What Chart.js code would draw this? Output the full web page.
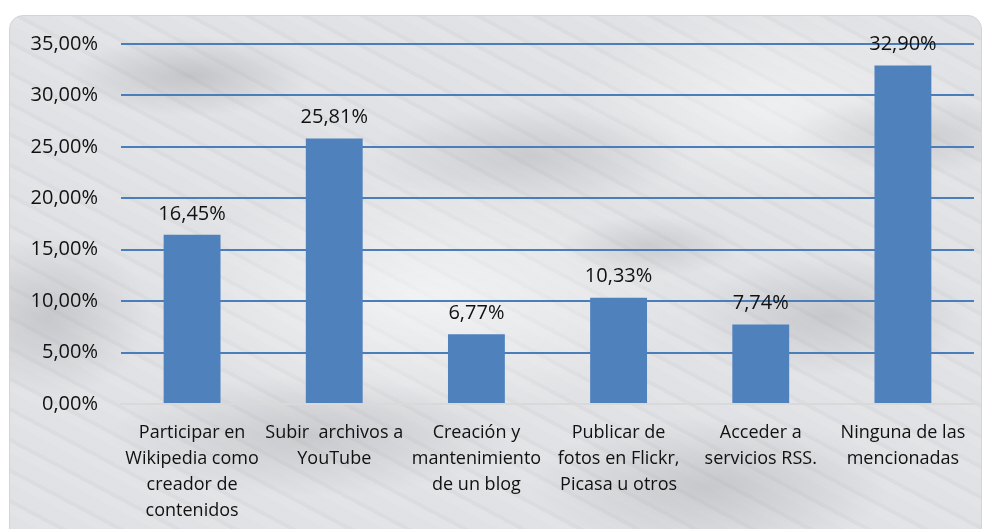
<!DOCTYPE html>
<html>
<head>
<meta charset="utf-8">
<script src="https://cdn.jsdelivr.net/npm/chart.js@4.4.0/dist/chart.umd.min.js"></script>
<style>
  body { margin: 0; background: #fff; width: 988px; height: 529px; overflow: hidden; }
  #frame {
    position: absolute; left: 9px; top: 15px; width: 973px; height: 530px;
    border: 1px solid #d4d4d4; border-radius: 14px; overflow: hidden; box-sizing: border-box;
    background-color: #dfe0e3;
    background-image:
      radial-gradient(ellipse 120px 40px at 180px 60px, rgba(140,140,145,0.35), transparent),
      radial-gradient(ellipse 160px 50px at 520px 140px, rgba(150,150,155,0.3), transparent),
      radial-gradient(ellipse 140px 60px at 820px 300px, rgba(140,140,145,0.3), transparent),
      radial-gradient(ellipse 200px 60px at 300px 420px, rgba(145,145,150,0.3), transparent),
      radial-gradient(ellipse 180px 70px at 700px 470px, rgba(140,140,145,0.3), transparent),
      radial-gradient(ellipse 100px 80px at 40px 300px, rgba(150,150,155,0.35), transparent),
      radial-gradient(ellipse 90px 30px at 640px 230px, rgba(150,150,155,0.3), transparent),
      radial-gradient(ellipse 120px 40px at 900px 120px, rgba(150,150,155,0.3), transparent),
      radial-gradient(ellipse 260px 120px at 420px 280px, rgba(255,255,255,0.55), transparent),
      radial-gradient(ellipse 200px 100px at 760px 90px, rgba(255,255,255,0.45), transparent),
      repeating-linear-gradient(28deg, rgba(255,255,255,0.12) 0 9px, rgba(185,185,190,0.09) 9px 13px, rgba(240,240,243,0.1) 13px 27px);
  }
  #chart { display: block; }
</style>
</head>
<body>
<div id="frame"><canvas id="chart" width="973" height="530"></canvas></div>
<script>
// categories (multi-line labels) and values in %
const categories = [
  ["Participar en", "Wikipedia como", "creador de", "contenidos"],
  ["Subir  archivos a", "YouTube"],
  ["Creación y", "mantenimiento", "de un blog"],
  ["Publicar de", "fotos en Flickr,", "Picasa u otros"],
  ["Acceder a", "servicios RSS."],
  ["Ninguna de las", "mencionadas"]
];
const percentages = [16.45, 25.81, 6.77, 10.33, 7.74, 32.90];
const yTicks = [0, 5, 10, 15, 20, 25, 30, 35];

const fmt = v => v.toFixed(2).replace(".", ",") + "%";
const fontFamily = "'Open Sans', 'DejaVu Sans', sans-serif";

const valueLabels = {
  id: "valueLabels",
  afterDatasetsDraw(chart) {
    const ctx = chart.ctx;
    const meta = chart.getDatasetMeta(0);
    ctx.save();
    ctx.font = "20px " + fontFamily;
    ctx.fillStyle = "#111";
    ctx.textAlign = "center";
    ctx.textBaseline = "middle";
    meta.data.forEach((bar, i) => {
      ctx.fillText(fmt(percentages[i]), bar.x, bar.y - 21);
    });
    ctx.restore();
  }
};

new Chart(document.getElementById("chart"), {
  type: "bar",
  data: {
    labels: categories,
    datasets: [{
      data: percentages,
      backgroundColor: "#4f81bd",
      borderWidth: 0,
      categoryPercentage: 1,
      barPercentage: 0.4
    }]
  },
  options: {
    responsive: false,
    animation: false,
    layout: { padding: { top: 28, right: 9, bottom: 0, left: 0 } },
    plugins: { legend: { display: false }, tooltip: { enabled: false } },
    scales: {
      x: {
        grid: { display: false },
        border: { display: true, color: "#d9d9d9", width: 2 },
        ticks: {
          color: "#111",
          font: { family: fontFamily, size: 18, lineHeight: "26px" },
          padding: 8,
          maxRotation: 0,
          autoSkip: false
        },
        afterFit(scale) { scale.height = 142; }
      },
      y: {
        min: 0,
        max: 35,
        afterBuildTicks(scale) { scale.ticks = yTicks.map(v => ({ value: v })); },
        grid: {
          drawTicks: true,
          tickLength: 23,
          tickColor: "rgba(0,0,0,0)",
          color: ctx => ctx.tick && ctx.tick.value === 0 ? "rgba(0,0,0,0)" : "#4a7ebb",
          lineWidth: 2
        },
        border: { display: false },
        ticks: {
          color: "#111",
          font: { family: fontFamily, size: 20 },
          padding: 0,
          callback: v => fmt(v)
        },
        afterFit(scale) { scale.width = 111; }
      }
    }
  },
  plugins: [valueLabels]
});
</script>
</body>
</html>
